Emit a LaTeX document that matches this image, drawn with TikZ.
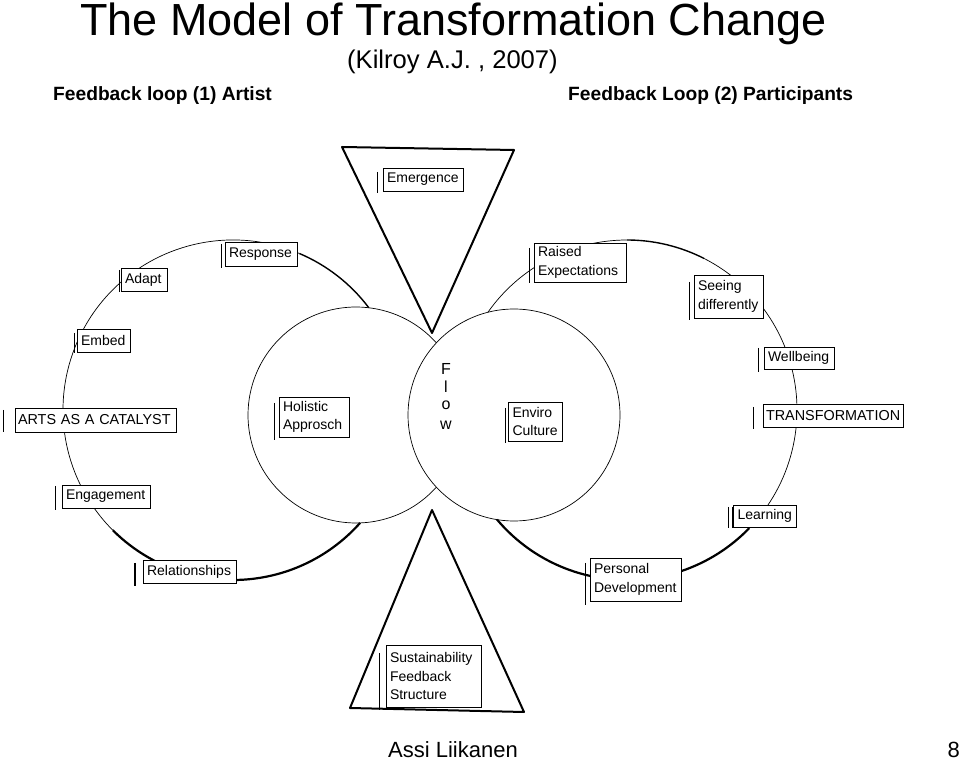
\documentclass[tikz,border=0pt]{standalone}
\usepackage{fontspec}
\setmainfont{Liberation Sans}
\usetikzlibrary{calc}
\newcommand{\lblfont}{\fontsize{14}{18.5}\selectfont}
\newcommand{\capfont}{\fontsize{14.4}{18.5}\selectfont}
\tikzset{
  lbl/.style={draw, line width=0.6pt, fill=white, inner xsep=4pt, inner ysep=0pt, font=\lblfont, align=left, anchor=center},
  bar/.style={line width=1pt},
  thinarc/.style={line width=0.7pt},
  medarc/.style={line width=1.4pt},
  thickarc/.style={line width=2.2pt},
  tri/.style={line width=2pt, line join=round},
  ttl/.style={anchor=base west, inner sep=0pt},
}
\begin{document}
\begin{tikzpicture}[x=1pt,y=1pt]
\fill[white] (0,0) rectangle (960,760);
\useasboundingbox (0,0) rectangle (960,760);

% circle centres
\coordinate (LB) at (233,350);
\coordinate (LS) at (356,345);
\coordinate (RS) at (514,345);
\coordinate (RB) at (627,350);

% left big circle
\draw[medarc]   ($(LB)+(37:170pt)$)  arc[start angle=37,  end angle=67,    radius=170pt];
\draw[thinarc]  ($(LB)+(67:170pt)$)  arc[start angle=67,  end angle=225,   radius=170pt];
\draw[thickarc] ($(LB)+(225:170pt)$) arc[start angle=225, end angle=318.4, radius=170pt];

% left small circle (outside the right one)
\draw[thinarc] ($(LS)+(41.9:108pt)$) arc[start angle=41.9, end angle=318.1, radius=108pt];
% right small circle
\draw[thinarc] (RS) circle[radius=106pt];

% right big circle
\draw[thickarc] ($(RB)+(220.1:170pt)$) arc[start angle=220.1, end angle=316,   radius=170pt];
\draw[thinarc]  ($(RB)+(316:170pt)$)   arc[start angle=316,   end angle=423,   radius=170pt];
\draw[medarc]   ($(RB)+(423:170pt)$)   arc[start angle=423,   end angle=450,   radius=170pt];
\draw[thinarc]  ($(RB)+(450:170pt)$)   arc[start angle=450,   end angle=504.9, radius=170pt];

% titles
\node[ttl, font=\fontsize{45}{45}\selectfont] (title) at (80,724) {The Model of Transformation Change};
\node[ttl, font=\fontsize{25.6}{26}\selectfont] (sub) at (347,691) {(Kilroy A.J. , 2007)};
\node[ttl, font=\bfseries\fontsize{19.2}{20}\selectfont] (fl1) at (53,659) {Feedback loop (1) Artist};
\node[ttl, font=\bfseries\fontsize{19.2}{20}\selectfont] (fl2) at (568,659) {Feedback Loop (2) Participants};
\node[ttl, font=\fontsize{22}{22}\selectfont] (auth) at (388,3) {Assi Liikanen};
\node[anchor=base east, inner sep=0pt, font=\fontsize{22}{22}\selectfont] (page) at (960,3) {8};

% label boxes
\node[lbl, minimum height=23pt, text width=72pt] (emer) at (423,580.5) {Emergence};
\node[lbl, minimum height=24pt, text width=64pt] (resp) at (261,506) {Response};
\node[lbl, minimum height=23pt, text width=38pt] (adapt) at (144,480.5) {Adapt};
\node[lbl, minimum height=23pt, text width=45pt] (embed) at (103.5,419.5) {Embed};
\node[lbl, minimum height=24pt, text width=155pt, inner xsep=3pt, font=\capfont] (arts) at (95.5,340) {ARTS AS A CATALYST};
\node[lbl, minimum height=23pt, text width=80pt] (eng) at (106,263.5) {Engagement};
\node[lbl, minimum height=23pt, text width=85pt] (rel) at (189.5,188.5) {Relationships};
\node[lbl, minimum height=40pt, text width=62pt] (hol) at (314,343) {Holistic\\Approsch};
\node[lbl, minimum height=39pt, text width=46pt] (env) at (535.5,338.5) {Enviro\\Culture};
\node[lbl, minimum height=39pt, text width=84pt] (raised) at (580,497.5) {Raised\\Expectations};
\node[lbl, minimum height=43pt, text width=61pt] (seeing) at (728.5,463.5) {Seeing\\differently};
\node[lbl, minimum height=22pt, text width=62pt] (well) at (799,402) {Wellbeing};
\node[lbl, minimum height=23pt, text width=135pt, inner xsep=2.5pt, font=\capfont] (trans) at (833.5,344.5) {TRANSFORMATION};
\node[lbl, minimum height=22pt, text width=55pt] (learn) at (765,244) {Learning};
\node[lbl, minimum height=43pt, text width=83pt] (pers) at (635.5,180.5) {Personal\\Development};
\node[lbl, minimum height=62pt, text width=87pt] (sust) at (433.5,84) {Sustainability\\Feedback\\Structure};

% triangles
\draw[tri] (342,613) -- (514,610) -- (432,427) -- cycle;
\draw[tri] (432,250) -- (524,48) -- (350,52) -- cycle;

% Flow letters
\begin{scope}[every node/.style={anchor=base, inner sep=0pt, font=\fontsize{16}{16}\selectfont}]
\node (fF) at (446,385) {F};
\node (fl) at (446,367) {l};
\node (fo) at (446,350) {o};
\node (fw) at (446,330) {w};
\end{scope}

% cursor bars beside the boxes
\draw[bar] (377,588) -- (377,567);
\draw[bar] (221,516) -- (221,492);
\draw[bar] (119,490) -- (119,468);
\draw[bar] (74,427) -- (74,407);
\draw[bar] (3,350) -- (3,328);
\draw[bar] (55,274) -- (55,250);
\draw[line width=1.8pt] (135,197) -- (135,174);
\draw[bar] (274,357) -- (274,320);
\draw[bar] (505,352) -- (505,317);
\draw[bar] (529,512) -- (529,477);
\draw[bar] (689,478) -- (689,440);
\draw[bar] (758,412) -- (758,388);
\draw[bar] (753,353) -- (753,331);
\draw[bar] (728,253) -- (728,232);
\draw[bar] (732,253) -- (732,232);
\draw[bar] (585,197) -- (585,155);
\draw[bar] (379,107) -- (379,50);
\end{tikzpicture}
\end{document}
